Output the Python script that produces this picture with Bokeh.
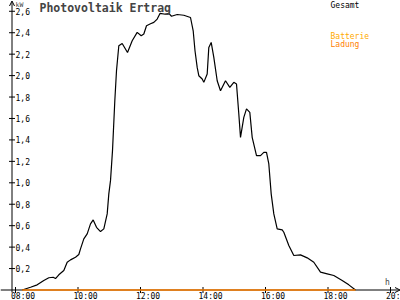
import math
from bokeh.plotting import figure
from bokeh.models import Range1d, Label, Arrow, OpenHead
from bokeh.embed import file_html
from bokeh.resources import INLINE
from bokeh.core.properties import value

# ---- data ----
hours = [8.214, 8.480, 8.694, 8.906, 9.066, 9.206, 9.280, 9.386, 9.546, 9.654,
         9.760, 9.920, 10.026, 10.080, 10.186, 10.294, 10.400, 10.486, 10.592, 10.720,
         10.826, 10.934, 10.986, 11.040, 11.104, 11.178, 11.232, 11.306, 11.414, 11.584,
         11.734, 11.894, 12.022, 12.106, 12.192, 12.320, 12.426, 12.534, 12.624, 12.800,
         12.906, 12.992, 13.174, 13.386, 13.600, 13.686, 13.744, 13.814, 13.866, 13.974,
         14.026, 14.134, 14.186, 14.262, 14.346, 14.454, 14.560, 14.720, 14.858, 14.986,
         15.072, 15.146, 15.200, 15.306, 15.392, 15.498, 15.574, 15.712, 15.840, 15.946,
         16.032, 16.106, 16.182, 16.266, 16.374, 16.534, 16.586, 16.746, 16.906, 17.120,
         17.334, 17.546, 17.760, 17.974, 18.186, 18.454, 18.666, 18.880]
gesamt_kw = [0.000, 0.026, 0.048, 0.089, 0.114, 0.119, 0.107, 0.142, 0.182, 0.259,
             0.281, 0.306, 0.331, 0.384, 0.477, 0.524, 0.617, 0.654, 0.585, 0.545,
             0.570, 0.710, 0.897, 1.020, 1.300, 1.766, 2.046, 2.279, 2.300, 2.216,
             2.325, 2.403, 2.372, 2.388, 2.465, 2.484, 2.496, 2.527, 2.580, 2.572,
             2.580, 2.554, 2.570, 2.563, 2.542, 2.418, 2.232, 2.076, 1.999, 1.968,
             1.937, 2.015, 2.263, 2.309, 2.170, 1.952, 1.859, 1.952, 1.890, 1.937,
             1.922, 1.642, 1.424, 1.610, 1.689, 1.657, 1.424, 1.253, 1.253, 1.284,
             1.284, 1.176, 0.897, 0.710, 0.570, 0.561, 0.539, 0.415, 0.322, 0.328,
             0.300, 0.259, 0.166, 0.151, 0.135, 0.089, 0.048, 0.000]
ladung_hours = [8.214, 18.880]
ladung_kw = [0.0, 0.0]

y_ticks = [0.2, 0.4, 0.6, 0.8, 1.0, 1.2, 1.4, 1.6, 1.8, 2.0, 2.2, 2.4, 2.6]
y_labels = ["0,2", "0,4", "0,6", "0,8", "1,0", "1,2", "1,4", "1,6", "1,8", "2,0", "2,2", "2,4", "2,6"]
x_ticks = [8, 10, 12, 14, 16, 18, 20]
x_labels = ["08:00", "10:00", "12:00", "14:00", "16:00", "18:00", "20:00"]

title_text = "Photovoltaik Ertrag"
legend_items = ["Gesamt", "Batterie", "Ladung"]
legend_colors = ["black", "#FFAA00", "#FF8000"]

# ---- layout helpers (pixel -> data) ----
W, H = 400, 300
PX_PER_H = 31.25
PX_PER_KW = 107.2
X0 = 8 - 15 / PX_PER_H
Y_TOP = 289.5 / PX_PER_KW


def hx(px):
    return X0 + px / PX_PER_H


def ky(py):
    return Y_TOP - py / PX_PER_KW


AX = hx(11.5)
MONO = "DejaVu Sans Mono"

p = figure(width=W, height=H, x_range=Range1d(hx(0), hx(W)), y_range=Range1d(ky(H), ky(0)),
           output_backend="svg", toolbar_location=None, min_border=0,
           x_axis_type=None, y_axis_type=None, outline_line_color=None)
p.grid.visible = False
p.background_fill_color = "white"
p.border_fill_color = "white"

# axes with arrow heads
p.add_layout(Arrow(end=OpenHead(size=5, line_width=1, line_color="black"),
                   x_start=AX, y_start=ky(292), x_end=AX, y_end=ky(0.5),
                   line_color="black", line_width=1))
p.add_layout(Arrow(end=OpenHead(size=5, line_width=1, line_color="black"),
                   x_start=hx(0), y_start=0, x_end=hx(399.5), y_end=0,
                   line_color="black", line_width=1))

# ticks
p.scatter(x=[AX] * len(y_ticks), y=y_ticks, marker="dash", size=6, line_color="black", line_width=1)
p.scatter(x=x_ticks, y=[0] * len(x_ticks), marker="dash", angle=math.pi / 2, size=6,
          line_color="black", line_width=1)

# tick labels
p.text(x=[AX] * len(y_ticks), y=y_ticks, text=y_labels, x_offset=3.5,
       text_font=value(MONO), text_font_size="8px", text_align="left",
       text_baseline="middle", text_color="black")
p.text(x=x_ticks, y=[ky(295.5)] * len(x_ticks), text=x_labels, x_offset=-4.5,
       text_font=value(MONO), text_font_size="8px", text_align="left",
       text_baseline="middle", text_color="black")

# data lines
p.line(hours, gesamt_kw, line_color="black", line_width=1.2)
lad = p.line(ladung_hours, ladung_kw, line_color="#FF8000", line_width=1.3)
lad.level = "overlay"

# units
p.add_layout(Label(x=AX, y=ky(4), x_offset=3.5, text="kW", text_font=MONO,
                   text_font_size="6.5px", text_baseline="middle", text_align="left"))
p.add_layout(Label(x=hx(387), y=ky(281.5), text="h", text_font=MONO,
                   text_font_size="8px", text_baseline="middle", text_align="center"))

# title
p.add_layout(Label(x=hx(39), y=ky(7.5), text=title_text, text_font=MONO,
                   text_font_size="11.5px", text_font_style="bold",
                   text_baseline="middle", text_align="left"))

# legend texts
for name, col, py in zip(legend_items, legend_colors, [4.5, 35.5, 44]):
    p.add_layout(Label(x=hx(330), y=ky(py), text=name, text_font=MONO,
                       text_font_size="8px", text_color=col,
                       text_baseline="middle", text_align="left"))

open("out.html", "w").write(file_html(p, INLINE))
